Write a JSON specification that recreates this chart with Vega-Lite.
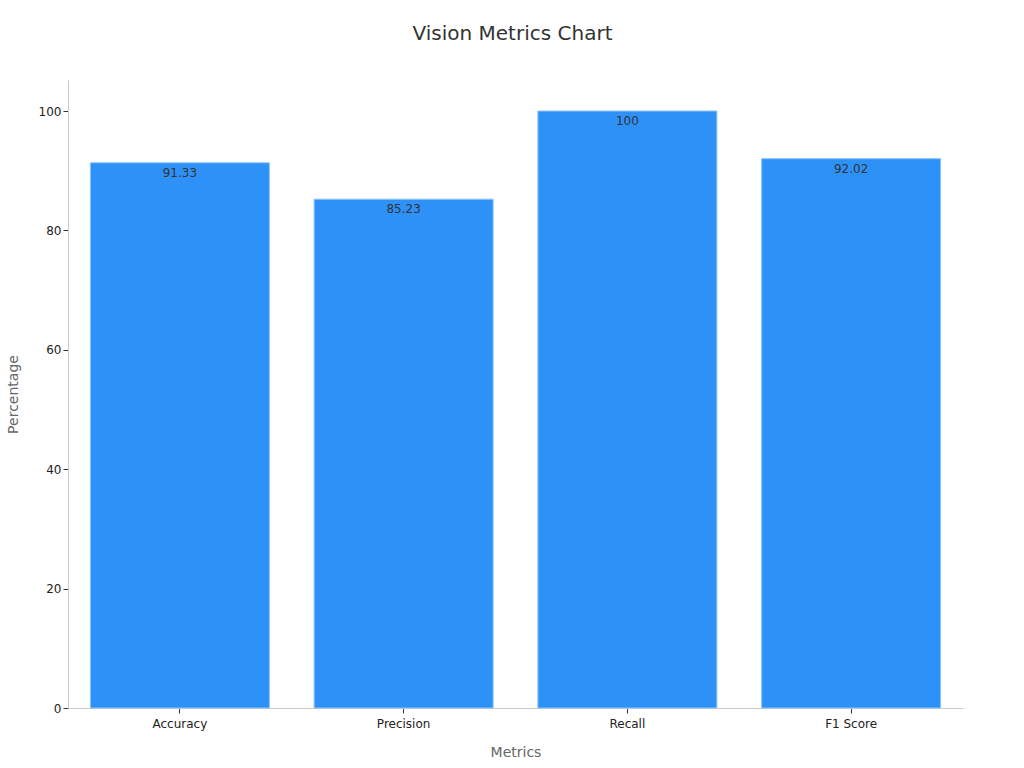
{
  "$schema": "https://vega.github.io/schema/vega-lite/v6.json",
  "width": 895,
  "height": 628,
  "autosize": {"type": "none"},
  "padding": {"left": 68, "top": 80, "right": 61, "bottom": 60},
  "background": "white",
  "config": {
    "font": "DejaVu Sans",
    "view": {"stroke": null},
    "axis": {"grid": false, "domainColor": "#cccccc", "tickColor": "#333333", "labelColor": "#222222", "labelFontSize": 12, "titleColor": "#666666", "titleFontSize": 14, "titleFontWeight": "normal"}
  },
  "title": {"text": "Vision Metrics Chart", "fontSize": 20, "fontWeight": "normal", "color": "#333333", "offset": 36, "dx": -3},
  "data": {
    "values": [
      {"metric": "Accuracy", "value": 91.33},
      {"metric": "Precision", "value": 85.23},
      {"metric": "Recall", "value": 100},
      {"metric": "F1 Score", "value": 92.02}
    ]
  },
  "encoding": {
    "x": {"field": "metric", "type": "nominal", "sort": null, "title": "Metrics",
      "scale": {"paddingInner": 0.2, "paddingOuter": 0.1},
      "axis": {"labelAngle": 0, "labelPadding": 5, "titlePadding": 16}},
    "y": {"field": "value", "type": "quantitative", "title": "Percentage",
      "scale": {"domain": [0, 105.2], "nice": false},
      "axis": {"values": [0, 20, 40, 60, 80, 100], "titlePadding": 18}}
  },
  "layer": [
    {"mark": {"type": "bar", "color": "#2e91f7", "stroke": "#8cc4fb", "strokeWidth": 1}},
    {"mark": {"type": "text", "baseline": "top", "dy": 5, "fontSize": 12, "color": "#333333"},
     "encoding": {"text": {"field": "value", "type": "quantitative"}}}
  ]
}
